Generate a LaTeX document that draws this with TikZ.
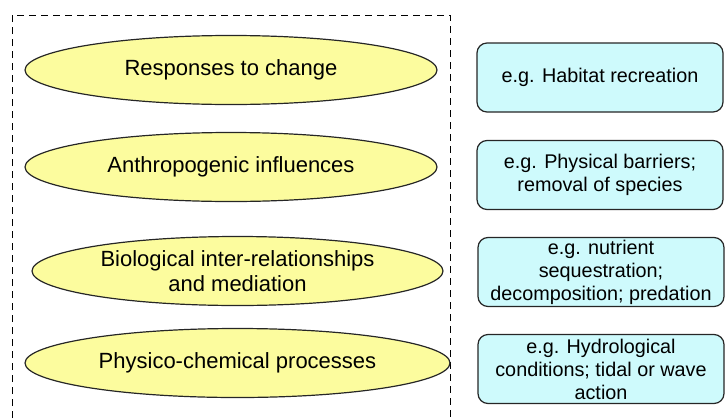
\documentclass[tikz,border=0pt]{standalone}
\usepackage{fontspec}
\setmainfont{Liberation Sans}
\usepackage{tikz}
\usetikzlibrary{shapes.geometric, positioning}
\usepackage{xcolor}
\definecolor{procfill}{RGB}{252,252,158}
\definecolor{examplefill}{RGB}{206,250,252}

\begin{document}
\begin{tikzpicture}[x=1pt, y=-1pt, line width=1.2pt,
                process/.style={ellipse, draw=black!85, fill=procfill, inner sep=0pt,
                    minimum height=69pt, align=center,
                    font=\fontsize{22}{25}\selectfont},
                example/.style={rectangle, rounded corners=10pt, draw=black!85, fill=examplefill,
                    minimum width=246pt, minimum height=69pt, inner sep=0pt, align=center,
                    font=\fontsize{19.8}{23}\selectfont}]

                \useasboundingbox (0,0) rectangle (728,418);

                % dashed frame, open at the bottom
                \draw[dash pattern=on 7pt off 5pt, line width=1pt] (12,418) -- (12,15) -- (450,15) -- (450,418);

                \node[process, minimum width=412pt] (resp) at (231,70) {Responses to change};
                \node[process, minimum width=412pt] (anth) at (231,167) {Anthropogenic influences};
                \node[process, minimum width=411pt] (bio) at (237.5,271) {Biological inter-relationships\\and mediation};
                \node[process, minimum width=425pt] (phys) at (237.5,363) {Physico-chemical processes};

                \node[example] (habitat) at (600,77.5) {e.g. Habitat recreation};
                \node[example] (barrier) at (600,175) {e.g. Physical barriers;\\removal of species};
                \node[example] (nutrient) at (601,272) {e.g. nutrient\\sequestration;\\decomposition; predation};
                \node[example] (hydro) at (601,369) {e.g. Hydrological\\conditions; tidal or wave\\action};

            \end{tikzpicture}
\end{document}
